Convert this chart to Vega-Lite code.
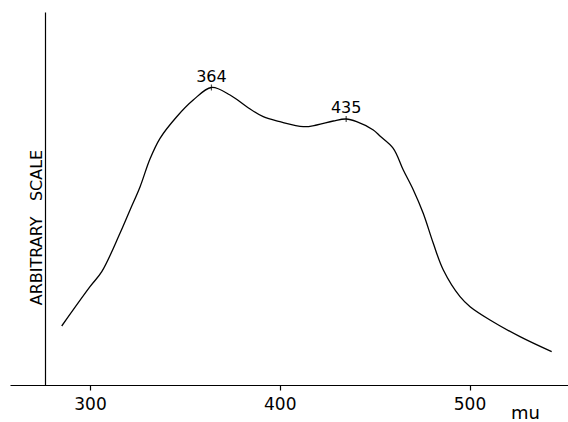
{
  "$schema": "https://vega.github.io/schema/vega-lite/v6.json",
  "width": 558,
  "height": 373,
  "autosize": {"type": "none"},
  "padding": {"left": 10, "top": 12, "right": 0, "bottom": 37},
  "background": "white",
  "datasets": {
    "curve": [
      {"nm": 285.1, "a": 59},
      {"nm": 300.0, "a": 98.3},
      {"nm": 306.2, "a": 113.3},
      {"nm": 315.8, "a": 151.7},
      {"nm": 321.1, "a": 175},
      {"nm": 326.4, "a": 198.3},
      {"nm": 331.6, "a": 226},
      {"nm": 336.9, "a": 246.7},
      {"nm": 345.7, "a": 268.3},
      {"nm": 354.4, "a": 285},
      {"nm": 364.0, "a": 297.5},
      {"nm": 373.8, "a": 290},
      {"nm": 382.6, "a": 278.3},
      {"nm": 391.3, "a": 268.3},
      {"nm": 400.1, "a": 263.3},
      {"nm": 412.4, "a": 258.3},
      {"nm": 419.5, "a": 260},
      {"nm": 428.2, "a": 264},
      {"nm": 435.0, "a": 266},
      {"nm": 440.5, "a": 263.3},
      {"nm": 449.3, "a": 255},
      {"nm": 452.8, "a": 249},
      {"nm": 459.8, "a": 236.7},
      {"nm": 465.1, "a": 215},
      {"nm": 470.4, "a": 195},
      {"nm": 475.6, "a": 171.7},
      {"nm": 480.9, "a": 141.7},
      {"nm": 486.2, "a": 115},
      {"nm": 495.0, "a": 88.3},
      {"nm": 500.3, "a": 78.3},
      {"nm": 510.8, "a": 65},
      {"nm": 526.6, "a": 48.3},
      {"nm": 543.3, "a": 33.3}
    ],
    "peaks": [
      {"nm": 364, "a": 297.5, "label": "364"},
      {"nm": 435, "a": 266, "label": "435"}
    ]
  },
  "config": {
    "view": {"stroke": null},
    "axis": {
      "grid": false,
      "domainColor": "black",
      "domainWidth": 1.2,
      "tickColor": "black",
      "tickWidth": 1.2,
      "labelColor": "black",
      "titleColor": "black",
      "labelFont": "DejaVu Sans",
      "titleFont": "DejaVu Sans",
      "titleFontWeight": "normal"
    }
  },
  "layer": [
    {
      "data": {"name": "curve"},
      "mark": {"type": "line", "interpolate": "catmull-rom", "color": "black", "strokeWidth": 1.3},
      "encoding": {
        "x": {
          "field": "nm", "type": "quantitative",
          "scale": {"domain": [257.84, 551.9], "nice": false, "zero": false},
          "axis": {
            "orient": "bottom",
            "values": [300, 400, 500],
            "tickSize": 5,
            "labelPadding": 6,
            "labelFontSize": 17,
            "labelFlush": false,
            "title": "mu",
            "titleFontSize": 18,
            "titleX": 515,
            "titleY": 33,
            "titleAlign": "center",
            "titleBaseline": "alphabetic"
          }
        },
        "y": {
          "field": "a", "type": "quantitative",
          "scale": {"domain": [0, 373], "nice": false, "zero": false},
          "axis": {
            "orient": "left",
            "offset": -35,
            "ticks": false,
            "labels": false,
            "title": "ARBITRARY\u00a0\u00a0\u00a0SCALE",
            "titleFontSize": 16,
            "titleAngle": 270,
            "titleX": -4,
            "titleY": 215,
            "titleAlign": "center",
            "titleBaseline": "alphabetic"
          }
        }
      }
    },
    {
      "data": {"name": "peaks"},
      "mark": {"type": "point", "shape": "M0,-1L0,1", "size": 36, "color": "black", "strokeWidth": 1.2, "filled": false},
      "encoding": {
        "x": {"field": "nm", "type": "quantitative"},
        "y": {"field": "a", "type": "quantitative"}
      }
    },
    {
      "data": {"name": "peaks"},
      "mark": {"type": "text", "font": "DejaVu Sans", "fontSize": 16, "color": "black", "baseline": "alphabetic", "align": "center", "dy": -6},
      "encoding": {
        "x": {"field": "nm", "type": "quantitative"},
        "y": {"field": "a", "type": "quantitative"},
        "text": {"field": "label"}
      }
    }
  ]
}
